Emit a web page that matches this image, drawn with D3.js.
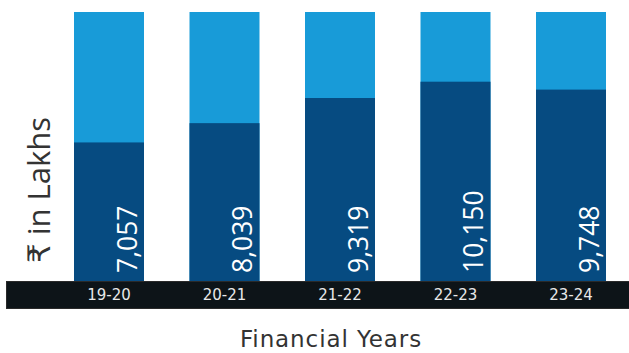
<!DOCTYPE html>
<html>
<head>
<meta charset="utf-8">
<script src="https://cdn.jsdelivr.net/npm/d3@7"></script>
<style>
  html, body { margin: 0; padding: 0; background: #fff; }
  svg { display: block; }
  text { font-family: "Open Sans", "DejaVu Sans", sans-serif; }
</style>
</head>
<body>
<div id="chart"></div>
<script>
// Financial years and amounts (₹ in Lakhs)
const years = ["19-20", "20-21", "21-22", "22-23", "23-24"];
const amounts = [7057, 8039, 9319, 10150, 9748];
// Upper end of the value axis; the light track fills each column up to it
const axisMax = 13700;

const width = 629, height = 353;
const colors = { track: "#189BD8", value: "#064B81", band: "#0D1418", bandEdge: "#2A2A2A" };
const wideFont = "\"DejaVu Sans\", sans-serif";

const svg = d3.select("#chart").append("svg")
  .attr("width", width).attr("height", height);

const x = d3.scaleBand()
  .domain(years)
  .range([74, 606])
  .paddingInner(0.394)
  .paddingOuter(0);

const y = d3.scaleLinear()
  .domain([0, axisMax])
  .range([281, 12]);

const rows = years.map((yr, i) => ({ year: yr, value: amounts[i] }));

// Light full-height track
svg.append("g").selectAll("rect")
  .data(rows).join("rect")
  .attr("x", d => x(d.year))
  .attr("width", x.bandwidth())
  .attr("y", y(axisMax))
  .attr("height", y(0) - y(axisMax))
  .attr("fill", colors.track);

// Dark value bars
svg.append("g").selectAll("rect")
  .data(rows).join("rect")
  .attr("x", d => x(d.year))
  .attr("width", x.bandwidth())
  .attr("y", d => y(d.value))
  .attr("height", d => y(0) - y(d.value))
  .attr("fill", colors.value);

// Vertical value labels inside the bars
svg.append("g").selectAll("text")
  .data(rows).join("text")
  .attr("transform", d => `translate(${x(d.year) + x.bandwidth() - 7},${y(0) - 8}) rotate(-90)`)
  .attr("text-anchor", "start")
  .attr("fill", "#ffffff")
  .attr("font-size", 26.5)
  .text(d => d3.format(",")(d.value));

// Dark category band along the bottom
const bandTop = y(0);
svg.append("rect")
  .attr("x", 6.5).attr("y", bandTop + 0.5)
  .attr("width", width).attr("height", 27)
  .attr("fill", colors.band)
  .attr("stroke", colors.bandEdge)
  .attr("stroke-width", 1);

const xAxis = svg.append("g")
  .attr("transform", `translate(0,${bandTop})`)
  .call(d3.axisBottom(x).tickSize(0).tickPadding(0));
xAxis.select(".domain").remove();
xAxis.selectAll("text")
  .attr("dy", null)
  .attr("y", 19)
  .attr("fill", "#E8E8E8")
  .style("font-size", "15px")
  .style("font-family", wideFont);

// Axis titles
svg.append("text")
  .attr("transform", "translate(50,190) rotate(-90)")
  .attr("text-anchor", "middle")
  .attr("fill", "#333333")
  .attr("font-size", 31)
  .text("₹ in Lakhs");

svg.append("text")
  .attr("x", 331).attr("y", 347)
  .attr("text-anchor", "middle")
  .attr("fill", "#333333")
  .style("font-size", "23px")
  .style("letter-spacing", "0.9px")
  .style("font-family", wideFont)
  .text("Financial Years");
</script>
</body>
</html>
